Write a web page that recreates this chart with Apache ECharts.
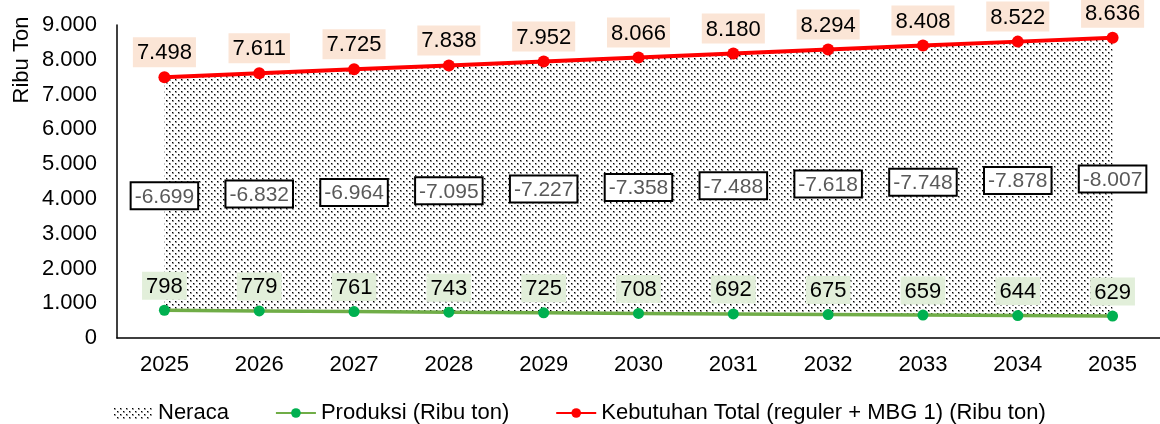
<!DOCTYPE html>
<html>
<head>
<meta charset="utf-8">
<script src="https://cdn.jsdelivr.net/npm/echarts@6/dist/echarts.min.js"></script>
<style>
  html, body { margin: 0; padding: 0; background: #fff; }
  #chart { width: 1160px; height: 424px; }
</style>
</head>
<body>
<div id="chart"></div>
<script>
  var years = ['2025', '2026', '2027', '2028', '2029', '2030', '2031', '2032', '2033', '2034', '2035'];
  var kebutuhan = [7498, 7611, 7725, 7838, 7952, 8066, 8180, 8294, 8408, 8522, 8636];
  var produksi = [798, 779, 761, 743, 725, 708, 692, 675, 659, 644, 629];
  var neraca = [-6699, -6832, -6964, -7095, -7227, -7358, -7488, -7618, -7748, -7878, -8007];

  var font = 'Liberation Sans, Arial, sans-serif';

  // angka gaya indonesia: 7498 -> 7.498
  function fmt(v) {
    var s = Math.abs(v).toString();
    var out = s.length > 3 ? s.slice(0, s.length - 3) + '.' + s.slice(s.length - 3) : s;
    return (v < 0 ? '-' : '') + out;
  }

  // pola titik untuk area neraca
  var tile = document.createElement('canvas');
  tile.width = 6;
  tile.height = 6;
  var ctx = tile.getContext('2d');
  function titik(x, y) {
    ctx.fillStyle = '#9a9a9a';
    ctx.fillRect(x, y, 2, 2);
    ctx.fillStyle = '#000';
    ctx.fillRect(x, y, 1, 1);
  }
  titik(1, 1);
  titik(4, 4);
  var dots = { image: tile, repeat: 'repeat' };

  var selisih = [];
  var tengah = [];
  for (var i = 0; i < years.length; i++) {
    selisih.push(kebutuhan[i] - produksi[i]);
    tengah.push((kebutuhan[i] + produksi[i]) / 2);
  }

  var myChart = echarts.init(document.getElementById('chart'));
  var option = {
    backgroundColor: '#fff',
    animation: false,
    textStyle: { fontFamily: font },
    grid: { left: 117, top: 25, width: 1050, bottom: 86 },
    legend: {
      left: 108,
      top: 397,
      itemWidth: 40,
      itemHeight: 12,
      itemGap: 46,
      textStyle: { fontSize: 22, color: '#000', fontFamily: font },
      data: [
        { name: 'Neraca', icon: 'rect', itemStyle: { color: dots } },
        { name: 'Produksi (Ribu ton)' },
        { name: 'Kebutuhan Total (reguler + MBG 1) (Ribu ton)' }
      ]
    },
    graphic: [{
      type: 'text',
      x: 22,
      y: 60,
      rotation: Math.PI / 2,
      style: {
        text: 'Ribu Ton',
        fontSize: 22,
        fontFamily: font,
        fill: '#000',
        textAlign: 'center',
        textVerticalAlign: 'middle'
      }
    }],
    xAxis: {
      type: 'category',
      data: years,
      axisLine: { lineStyle: { color: '#000', width: 1.5 } },
      axisTick: { show: false },
      axisLabel: { fontSize: 22, color: '#000', margin: 16 },
      splitLine: { show: false }
    },
    yAxis: {
      type: 'value',
      min: 0,
      max: 9000,
      interval: 1000,
      axisLine: { show: true, lineStyle: { color: '#000', width: 1.5 } },
      axisTick: { show: false },
      splitLine: { show: false },
      axisLabel: {
        fontSize: 22,
        color: '#000',
        margin: 20,
        formatter: function (v) { return fmt(v); }
      }
    },
    series: [
      {
        name: 'dasar',
        type: 'line',
        stack: 'n',
        data: produksi,
        symbol: 'none',
        silent: true,
        lineStyle: { width: 0, opacity: 0 },
        z: 1
      },
      {
        name: 'Neraca',
        type: 'line',
        stack: 'n',
        data: selisih,
        symbol: 'none',
        silent: true,
        lineStyle: { width: 0, opacity: 0 },
        itemStyle: { color: dots },
        areaStyle: { color: dots, opacity: 1 },
        z: 1
      },
      {
        name: 'Produksi (Ribu ton)',
        type: 'line',
        data: produksi,
        symbol: 'circle',
        symbolSize: 11,
        lineStyle: { color: '#70AD47', width: 3.5 },
        itemStyle: { color: '#00B050' },
        label: {
          show: true,
          position: 'top',
          distance: 5,
          fontSize: 22,
          color: '#000',
          backgroundColor: '#E2EFDA',
          padding: [4, 4, 2, 4],
          formatter: function (p) { return fmt(p.value); }
        },
        z: 3
      },
      {
        name: 'Kebutuhan Total (reguler + MBG 1) (Ribu ton)',
        type: 'line',
        data: kebutuhan,
        symbol: 'circle',
        symbolSize: 12,
        lineStyle: { color: '#FF0000', width: 4 },
        itemStyle: { color: '#FF0000' },
        label: {
          show: true,
          position: 'top',
          distance: 4,
          fontSize: 22,
          color: '#000',
          backgroundColor: '#FBE5D6',
          padding: [5, 4, 3, 4],
          formatter: function (p) { return fmt(p.value); }
        },
        z: 3
      },
      {
        name: 'label neraca',
        type: 'scatter',
        data: tengah,
        symbolSize: 1,
        silent: true,
        itemStyle: { color: '#fff', opacity: 0 },
        label: {
          show: true,
          position: 'top',
          distance: -15,
          fontSize: 21,
          color: '#595959',
          opacity: 1,
          backgroundColor: '#fff',
          borderColor: '#000',
          borderWidth: 2,
          padding: [3, 3, 1, 3],
          formatter: function (p) { return fmt(neraca[p.dataIndex]); }
        },
        z: 4
      }
    ]
  };
  myChart.setOption(option);
</script>
</body>
</html>
